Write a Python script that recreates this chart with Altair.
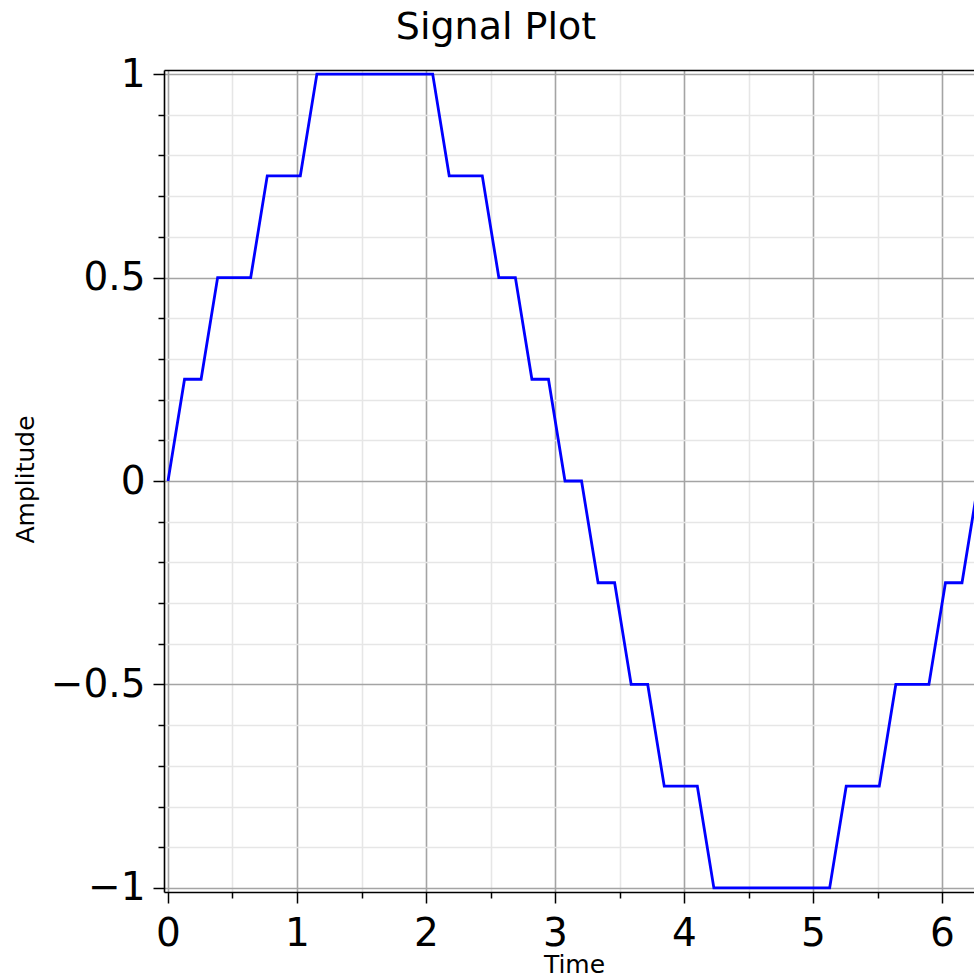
import altair as alt
import pandas as pd

# Sampled time values (s)
time_vals = [0.0, 0.1282, 0.2565, 0.3847, 0.5129, 0.6411, 0.7694, 0.8976, 1.0258, 1.1541,
             1.2823, 1.4105, 1.5387, 1.6670, 1.7952, 1.9234, 2.0517, 2.1799, 2.3081, 2.4363,
             2.5646, 2.6928, 2.8210, 2.9493, 3.0775, 3.2057, 3.3339, 3.4622, 3.5904, 3.7186,
             3.8468, 3.9751, 4.1033, 4.2315, 4.3598, 4.4880, 4.6162, 4.7444, 4.8727, 5.0009,
             5.1291, 5.2574, 5.3856, 5.5138, 5.6420, 5.7703, 5.8985, 6.0267, 6.1550, 6.2832]
# Quantized amplitude values
amp_vals = [0, 0.25, 0.25, 0.5, 0.5, 0.5, 0.75, 0.75, 0.75, 1,
            1, 1, 1, 1, 1, 1, 1, 0.75, 0.75, 0.75,
            0.5, 0.5, 0.25, 0.25, 0, 0, -0.25, -0.25, -0.5, -0.5,
            -0.75, -0.75, -0.75, -1, -1, -1, -1, -1, -1, -1,
            -1, -0.75, -0.75, -0.75, -0.5, -0.5, -0.5, -0.25, -0.25, 0]

x_major = [0, 1, 2, 3, 4, 5, 6]
x_minor = [0.5, 1.5, 2.5, 3.5, 4.5, 5.5]
y_major = [-1, -0.5, 0, 0.5, 1]
y_minor = [-0.9, -0.8, -0.7, -0.6, -0.4, -0.3, -0.2, -0.1,
           0.1, 0.2, 0.3, 0.4, 0.6, 0.7, 0.8, 0.9]

df = pd.DataFrame({"Time": time_vals, "Amplitude": amp_vals})

x_scale = alt.Scale(domain=[-0.031, 6.248], nice=False, zero=False)
y_scale = alt.Scale(domain=[-1.01, 1.01], nice=False, zero=False)

FONT = "DejaVu Sans"
MAJOR_GRID = "#a4a4a4"
MINOR_GRID = "#e6e6e6"

base = alt.Chart(df)

minor = base.mark_line(opacity=0, clip=True).encode(
    x=alt.X("Time:Q", scale=x_scale, axis=alt.Axis(
        orient="bottom", values=x_minor, labels=False, title=None, domain=False,
        ticks=True, tickSize=6, tickWidth=1.5, tickColor="black",
        grid=True, gridColor=MINOR_GRID, gridWidth=1.6)),
    y=alt.Y("Amplitude:Q", scale=y_scale, axis=alt.Axis(
        orient="left", values=y_minor, labels=False, title=None, domain=False,
        ticks=True, tickSize=6, tickWidth=1.5, tickColor="black",
        grid=True, gridColor=MINOR_GRID, gridWidth=1.6)),
)

top = base.mark_line(opacity=0, clip=True).encode(
    x=alt.X("Time:Q", scale=x_scale, axis=alt.Axis(
        orient="top", values=x_major, labels=False, title=None, domain=True,
        domainColor="black", domainWidth=1.6, ticks=False, grid=False)),
    y=alt.Y("Amplitude:Q", scale=y_scale, axis=None),
)

major = base.mark_line(color="#0000ff", strokeWidth=2.8, clip=True).encode(
    x=alt.X("Time:Q", scale=x_scale, axis=alt.Axis(
        orient="bottom", values=x_major, format="~g", title="Time",
        domain=True, domainColor="black", domainWidth=1.6,
        ticks=True, tickSize=11, tickWidth=1.5, tickColor="black",
        grid=True, gridColor=MAJOR_GRID, gridWidth=1.6,
        labelFont=FONT, labelFontSize=39, labelColor="black", labelPadding=11,
        titleFont=FONT, titleFontSize=25, titleFontWeight="normal", titleColor="black",
        titleX=410, titleY=80, titleAlign="center", titleBaseline="alphabetic")),
    y=alt.Y("Amplitude:Q", scale=y_scale, axis=alt.Axis(
        orient="left", values=y_major, format="~g", title="Amplitude",
        domain=True, domainColor="black", domainWidth=1.6,
        ticks=True, tickSize=11, tickWidth=1.5, tickColor="black",
        grid=True, gridColor=MAJOR_GRID, gridWidth=1.6,
        labelFont=FONT, labelFontSize=39, labelColor="black", labelPadding=8,
        titleFont=FONT, titleFontSize=25, titleFontWeight="normal", titleColor="black",
        titleAngle=-90, titleX=-139, titleY=409, titleAlign="center",
        titleBaseline="middle")),
)

chart = alt.layer(minor, top, major).resolve_scale(
    x="shared", y="shared"
).resolve_axis(
    x="independent", y="independent"
).properties(
    width=810,
    height=822,
    title=alt.TitleParams("Signal Plot", font=FONT, fontSize=38, fontWeight="normal",
                          color="black", anchor="middle", dx=-73, dy=22, offset=0,
                          baseline="alphabetic"),
    autosize=alt.AutoSizeParams(type="none"),
    padding={"left": 164, "top": 70, "right": 0, "bottom": 87},
).configure_view(stroke=None)

chart.save("out.html", embed_options={"renderer": "svg", "actions": False})
